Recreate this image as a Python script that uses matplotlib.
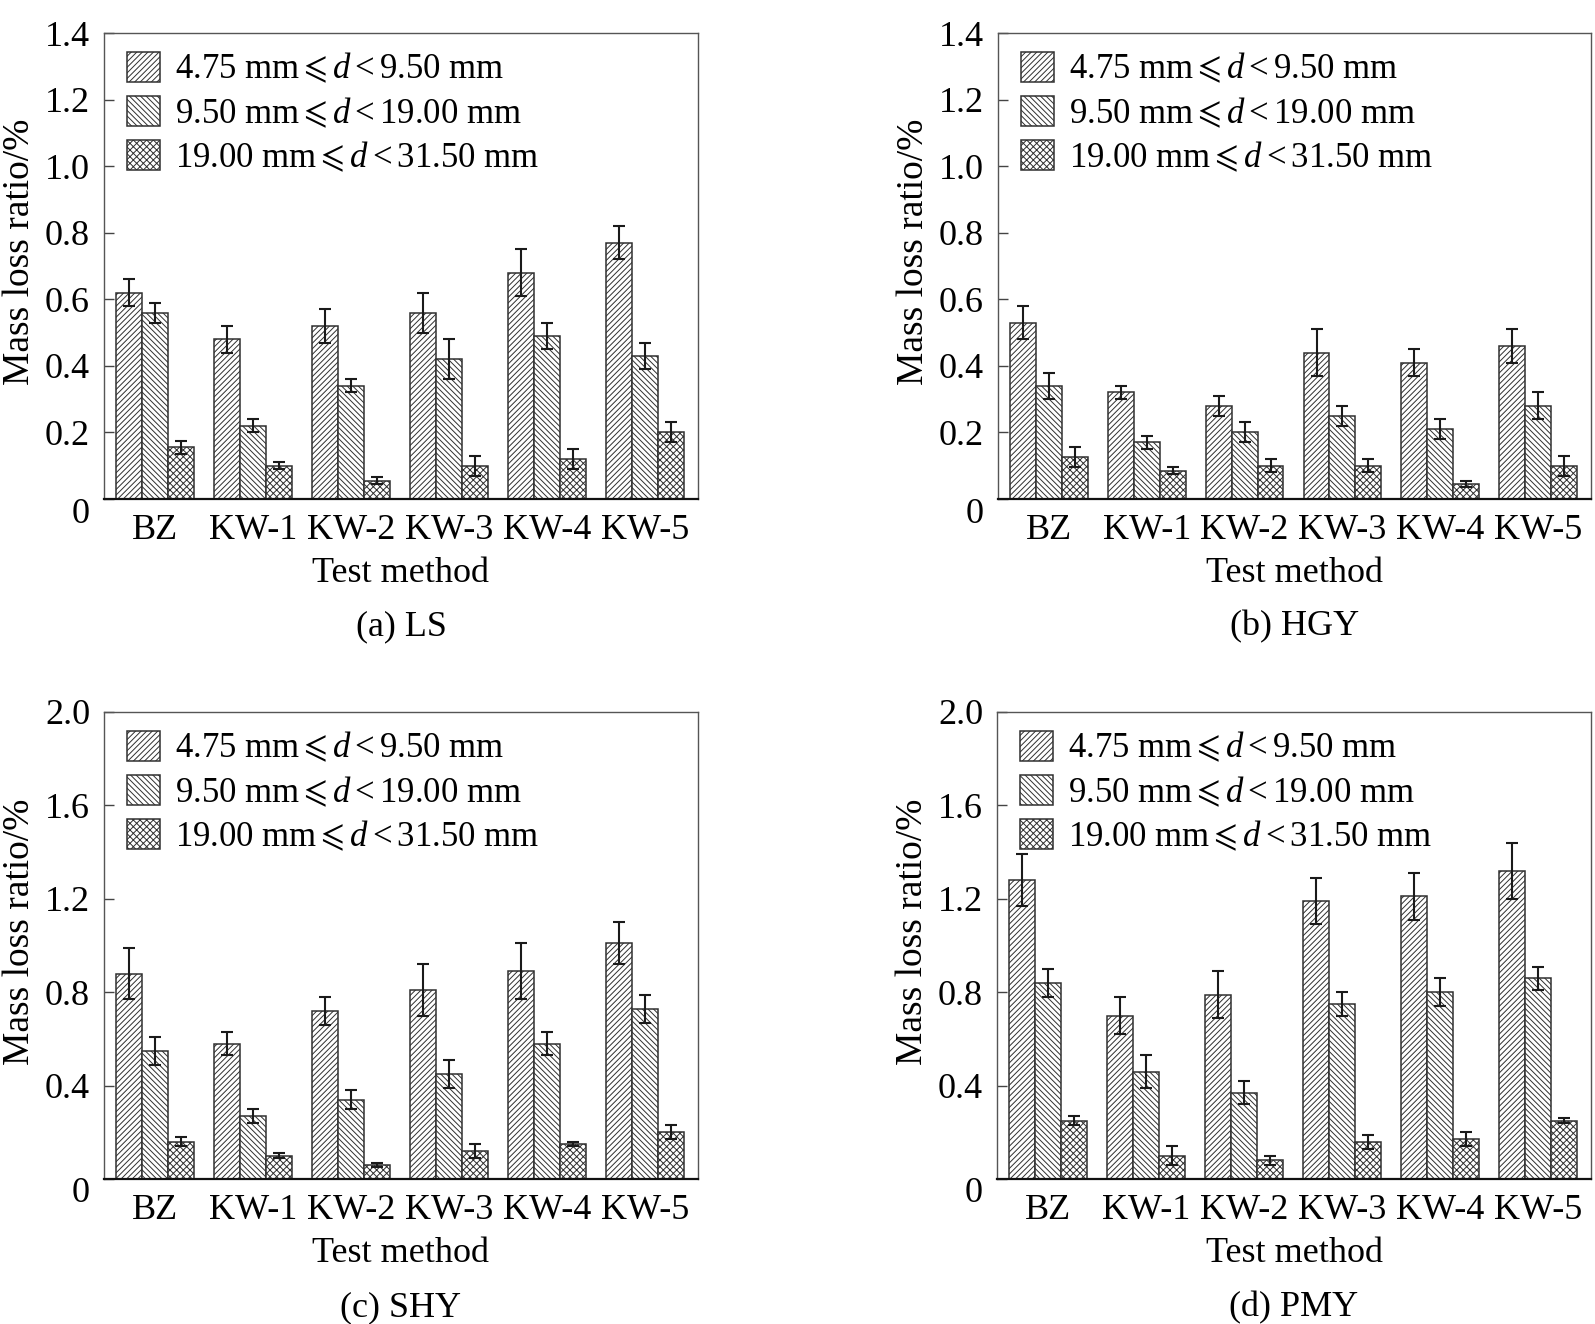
import matplotlib
matplotlib.use("Agg")
import matplotlib.pyplot as plt
import matplotlib.transforms as mtransforms
import numpy as np

plt.rcParams['font.family'] = ['Liberation Serif', 'DejaVu Sans']
plt.rcParams['mathtext.fontset'] = 'custom'
plt.rcParams['mathtext.rm'] = 'Liberation Serif'
plt.rcParams['mathtext.it'] = 'Liberation Serif:italic'
plt.rcParams['mathtext.fallback'] = 'stix'
plt.rcParams['hatch.linewidth'] = 0.7

categories = ['BZ', 'KW-1', 'KW-2', 'KW-3', 'KW-4', 'KW-5']
series_labels = ['4.75 mm$\\leqslant d <$9.50 mm',
                 '9.50 mm$\\leqslant d <$19.00 mm',
                 '19.00 mm$\\leqslant d <$31.50 mm']

# (a) LS
ls_s1 = [0.62, 0.48, 0.52, 0.56, 0.68, 0.77]
ls_e1 = [0.04, 0.04, 0.05, 0.06, 0.07, 0.05]
ls_s2 = [0.56, 0.22, 0.34, 0.42, 0.49, 0.43]
ls_e2 = [0.03, 0.02, 0.02, 0.06, 0.04, 0.04]
ls_s3 = [0.155, 0.10, 0.055, 0.10, 0.12, 0.20]
ls_e3 = [0.02, 0.01, 0.01, 0.03, 0.03, 0.03]

# (b) HGY
hgy_s1 = [0.53, 0.32, 0.28, 0.44, 0.41, 0.46]
hgy_e1 = [0.05, 0.02, 0.03, 0.07, 0.04, 0.05]
hgy_s2 = [0.34, 0.17, 0.20, 0.25, 0.21, 0.28]
hgy_e2 = [0.04, 0.02, 0.03, 0.03, 0.03, 0.04]
hgy_s3 = [0.125, 0.085, 0.10, 0.10, 0.045, 0.10]
hgy_e3 = [0.03, 0.01, 0.02, 0.02, 0.01, 0.03]

# (c) SHY
shy_s1 = [0.88, 0.58, 0.72, 0.81, 0.89, 1.01]
shy_e1 = [0.11, 0.05, 0.06, 0.11, 0.12, 0.09]
shy_s2 = [0.55, 0.27, 0.34, 0.45, 0.58, 0.73]
shy_e2 = [0.06, 0.03, 0.04, 0.06, 0.05, 0.06]
shy_s3 = [0.16, 0.10, 0.06, 0.12, 0.15, 0.20]
shy_e3 = [0.02, 0.01, 0.01, 0.03, 0.01, 0.03]

# (d) PMY
pmy_s1 = [1.28, 0.70, 0.79, 1.19, 1.21, 1.32]
pmy_e1 = [0.11, 0.08, 0.10, 0.10, 0.10, 0.12]
pmy_s2 = [0.84, 0.46, 0.37, 0.75, 0.80, 0.86]
pmy_e2 = [0.06, 0.07, 0.05, 0.05, 0.06, 0.05]
pmy_s3 = [0.25, 0.10, 0.08, 0.16, 0.17, 0.25]
pmy_e3 = [0.02, 0.04, 0.02, 0.03, 0.03, 0.01]

panel_titles = ['(a) LS', '(b) HGY', '(c) SHY', '(d) PMY']
yticks_top = [0, 0.2, 0.4, 0.6, 0.8, 1.0, 1.2, 1.4]
yticks_bot = [0, 0.4, 0.8, 1.2, 1.6, 2.0]

panels = [
    ([ls_s1, ls_s2, ls_s3], [ls_e1, ls_e2, ls_e3], yticks_top),
    ([hgy_s1, hgy_s2, hgy_s3], [hgy_e1, hgy_e2, hgy_e3], yticks_top),
    ([shy_s1, shy_s2, shy_s3], [shy_e1, shy_e2, shy_e3], yticks_bot),
    ([pmy_s1, pmy_s2, pmy_s3], [pmy_e1, pmy_e2, pmy_e3], yticks_bot),
]

W, H = 1595, 1324
fig = plt.figure(figsize=(W / 100, H / 100), dpi=100)
boxes = [(104, 33, 698, 499), (998, 33, 1591, 499),
         (104, 712, 698, 1179), (997, 712, 1591, 1179)]

hatches = ['//////', '\\\\\\\\\\\\', 'xxxxx']
edge = '#303030'
fs = 26
bw = 0.265
x = np.arange(len(categories))

for (vals, errs, yt), (l, t, r, b), title in zip(panels, boxes, panel_titles):
    ax = fig.add_axes([l / W, 1 - b / H, (r - l) / W, (b - t) / H])
    for k in range(3):
        ax.bar(x + (k - 1) * bw, vals[k], bw, yerr=errs[k], color='white',
               edgecolor=edge, linewidth=1.1, hatch=hatches[k],
               label=series_labels[k],
               error_kw=dict(ecolor='#1a1a1a', elinewidth=1.5, capsize=4.3, capthick=1.5))
    ax.set_xlim(-0.52, 5.54)
    ax.set_ylim(yt[0], yt[-1])
    ax.set_yticks(yt)
    ax.set_yticklabels(['0' if v == 0 else f'{v:.1f}' for v in yt])
    ax.set_xticks(x)
    ax.set_xticklabels(categories)
    ax.tick_params(axis='y', direction='in', length=7, width=1.0, color='#444444',
                   labelsize=fs, pad=10)
    ax.tick_params(axis='x', length=0, labelsize=fs, pad=11)
    for side in ['top', 'left', 'right']:
        ax.spines[side].set_color('#555555')
        ax.spines[side].set_linewidth(1.0)
    ax.spines['bottom'].set_color('#111111')
    ax.spines['bottom'].set_linewidth(1.6)
    ax.set_ylabel('Mass loss ratio/%', fontsize=27)
    ax.yaxis.set_label_coords(-0.113, 0.53)
    ax.set_xlabel('Test method', fontsize=fs)
    ax.xaxis.set_label_coords(0.5, -0.125)
    ax.text(0.5, -0.275, title, transform=ax.transAxes, ha='center', va='center', fontsize=fs)
    leg = ax.legend(loc='upper left', bbox_to_anchor=(0.027, 0.975), frameon=False,
                    fontsize=25, handlelength=0.95, handleheight=0.95,
                    labelspacing=0.27, handletextpad=0.42, borderpad=0.2, borderaxespad=0)
    for p in leg.get_patches():
        p.set_linewidth(1.1)
    # lower the "0" tick label slightly as in the reference
    lab0 = ax.yaxis.get_major_ticks()[0].label1
    lab0.set_transform(lab0.get_transform() +
                       mtransforms.ScaledTranslation(0, -0.11, fig.dpi_scale_trans))

fig.savefig('out.png', dpi=100, facecolor='white')
